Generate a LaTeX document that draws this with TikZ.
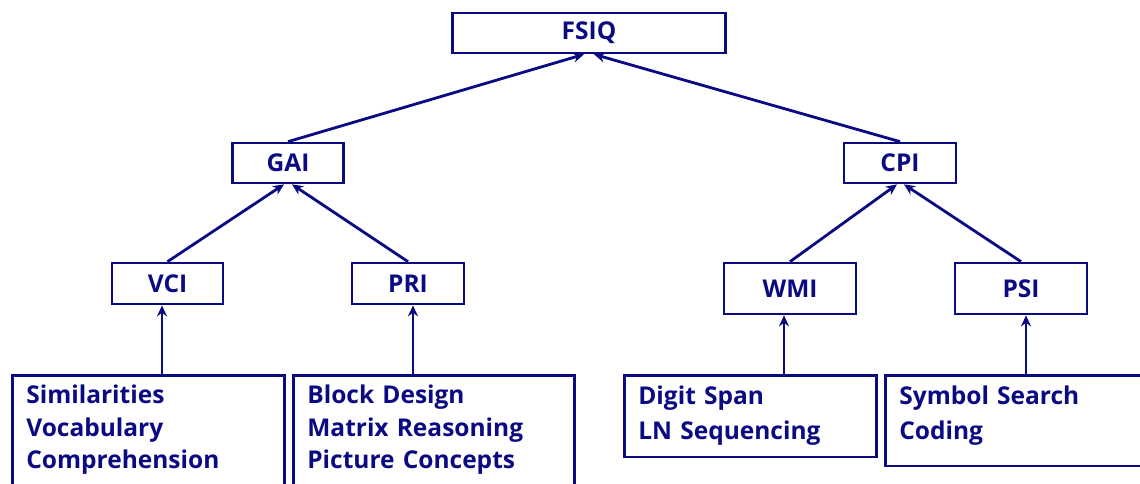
\documentclass[tikz,border=0pt]{standalone}
\usepackage{fontspec}
\setmainfont{Open Sans}
\usepackage{tikz}
\usetikzlibrary{arrows.meta,positioning}
\definecolor{wiscblue}{RGB}{10,10,130}
\newcommand{\boxtail}[1]{\rule[-#1]{0pt}{#1}}

\begin{document}
\begin{tikzpicture}[
    x=1pt, y=-1pt,
    line width=2.7pt, color=wiscblue,
    box/.style={rectangle, draw, minimum height=40pt, inner sep=0pt, font=\fontsize{24.5}{30}\selectfont\bfseries},
    tests/.style={rectangle, draw, anchor=north west, align=left, inner xsep=14pt, inner ysep=10pt, font=\fontsize{24.5}{32.5}\selectfont\bfseries},
    arrow/.style={-{Stealth[length=11pt, width=10pt]}, line width=2.8pt},
]
    \useasboundingbox (0,0) rectangle (1140,483);
    \clip (0,0) rectangle (1140,483);

    \node[box, minimum width=273pt] (fsiq) at (589,33) {FSIQ};
    \node[box, minimum width=111pt] (gai) at (288,163) {GAI};
    \node[box, minimum width=112pt] (cpi) at (900,163) {CPI};
    \node[box, minimum width=111pt, minimum height=41pt] (vci) at (167.5,283.5) {VCI};
    \node[box, minimum width=112pt, minimum height=41pt] (pri) at (408,283.5) {PRI};
    \node[box, minimum width=132pt, minimum height=51pt] (wmi) at (790,288.5) {WMI};
    \node[box, minimum width=132pt, minimum height=51pt] (psi) at (1021,288.5) {PSI};

    % subtests
    \node[tests, text width=244pt] (verbal) at (11,374) {Similarities\\Vocabulary\\Comprehension\boxtail{20pt}};
    \node[tests, text width=253pt] (percept) at (292,374) {Block Design\\Matrix Reasoning\\Picture Concepts\boxtail{20pt}};
    \node[tests, text width=224pt, inner ysep=11pt, font=\fontsize{24.5}{35}\selectfont\bfseries] (memory) at (623,374) {Digit Span\\LN Sequencing};
    \node[tests, text width=272pt, inner ysep=11pt, font=\fontsize{24.5}{35}\selectfont\bfseries] (speed) at (884,374) {Symbol Search\\Coding\boxtail{15pt}};

    \draw[arrow] (gai.north) -- ([xshift=-5pt]fsiq.south);
    \draw[arrow] (cpi.north) -- ([xshift=5pt]fsiq.south);
    \draw[arrow] (vci.north) -- ([xshift=-4pt]gai.south);
    \draw[arrow] (pri.north) -- ([xshift=4pt]gai.south);
    \draw[arrow] (wmi.north) -- ([xshift=-3pt]cpi.south);
    \draw[arrow] (psi.north) -- ([xshift=4pt]cpi.south);

    \draw[arrow] ([xshift=-5.5pt]vci.south |- verbal.north) -- ([xshift=-5.5pt]vci.south);
    \draw[arrow] ([xshift=5pt]pri.south |- percept.north) -- ([xshift=5pt]pri.south);
    \draw[arrow] ([xshift=-6pt]wmi.south |- memory.north) -- ([xshift=-6pt]wmi.south);
    \draw[arrow] ([xshift=5pt]psi.south |- speed.north) -- ([xshift=5pt]psi.south);
\end{tikzpicture}
\end{document}
